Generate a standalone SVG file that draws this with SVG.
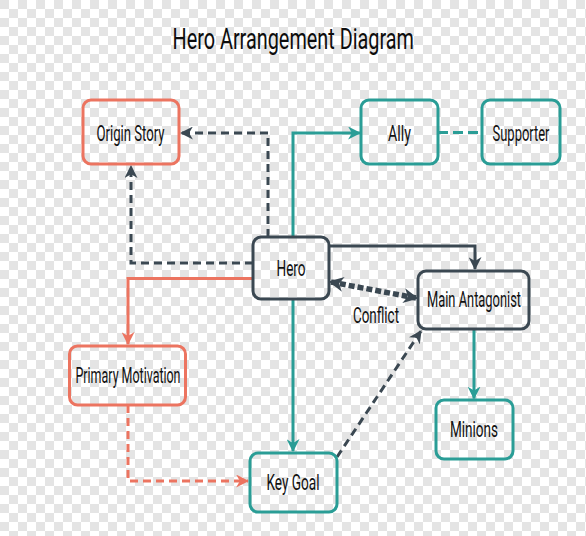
<svg xmlns="http://www.w3.org/2000/svg" width="586" height="536" viewBox="0 0 586 536">
  <defs>
    <pattern id="checker" x="0" y="0" width="18" height="18" patternUnits="userSpaceOnUse">
      <rect width="18" height="18" fill="#ffffff"/>
      <rect x="0" y="0" width="9" height="9" fill="#e4e4e4"/>
      <rect x="9" y="9" width="9" height="9" fill="#e4e4e4"/>
    </pattern>
    <marker id="arrDark" viewBox="0 0 12 12" refX="11" refY="6" markerWidth="13" markerHeight="13" markerUnits="userSpaceOnUse" orient="auto-start-reverse">
      <path d="M0,0 L12,6 L0,12 L3.5,6 Z" fill="#3b4852"/>
    </marker>
    <marker id="arrTeal" viewBox="0 0 12 12" refX="11" refY="6" markerWidth="13" markerHeight="13" markerUnits="userSpaceOnUse" orient="auto">
      <path d="M0,0 L12,6 L0,12 L3.5,6 Z" fill="#2a9d96"/>
    </marker>
    <marker id="arrOrange" viewBox="0 0 12 12" refX="11" refY="6" markerWidth="13" markerHeight="13" markerUnits="userSpaceOnUse" orient="auto">
      <path d="M0,0 L12,6 L0,12 L3.5,6 Z" fill="#ec7460"/>
    </marker>
    <marker id="arrConflict" viewBox="0 0 12 12" refX="10" refY="6" markerWidth="15" markerHeight="15" markerUnits="userSpaceOnUse" orient="auto-start-reverse">
      <path d="M0,0 L12,6 L0,12 L3.5,6 Z" fill="#3b4852"/>
    </marker>
  </defs>
  <style>
    .box { fill: none; stroke-width: 3; }
    .orange { stroke: #ec7460; }
    .teal { stroke: #2a9d96; }
    .dark { stroke: #3b4852; }
    .lbl { font-family: Roboto, "Liberation Sans", sans-serif; font-size: 22px; fill: #111111; text-anchor: middle; }
    .title { font-family: Roboto, "Liberation Sans", sans-serif; font-size: 30px; fill: #0d0d0d; }
    .conn { fill: none; stroke-width: 3; }
    .dash { stroke-dasharray: 8 5; }
  </style>

  <rect width="586" height="536" fill="url(#checker)"/>

  <text class="title" x="172.5" y="48.5" textLength="241.5" lengthAdjust="spacingAndGlyphs">Hero Arrangement Diagram</text>

  <g id="connectors">
    <!-- Hero -> Origin Story (top route) -->
    <path class="conn dark dash" d="M268,237 V133 H181" marker-end="url(#arrDark)"/>
    <!-- Hero -> Origin Story (left route) -->
    <path class="conn dark dash" d="M253,263 H131 V166" marker-end="url(#arrDark)"/>
    <!-- Hero -> Ally -->
    <path class="conn teal" d="M293,237 V133 H360" marker-end="url(#arrTeal)"/>
    <!-- Ally - Supporter -->
    <path class="conn teal" d="M438,132.5 H482" stroke-dasharray="10 5"/>
    <!-- Hero -> Main Antagonist -->
    <path class="conn dark" d="M329,246 H475 V269" marker-end="url(#arrDark)"/>
    <!-- Conflict -->
    <path fill="none" stroke="#3b4852" stroke-width="5.5" stroke-dasharray="6 3" d="M331,282 L416,298" marker-start="url(#arrConflict)" marker-end="url(#arrConflict)"/>
    <text class="lbl" transform="translate(376,322.5) scale(0.6,1)" textLength="76.7" lengthAdjust="spacingAndGlyphs">Conflict</text>
    <!-- Hero -> Primary Motivation -->
    <path class="conn orange" d="M253,278.5 H128 V344" marker-end="url(#arrOrange)"/>
    <!-- Primary Motivation -> Key Goal -->
    <path class="conn orange dash" d="M128,405 V481 H248" marker-end="url(#arrOrange)"/>
    <!-- Hero -> Key Goal -->
    <path class="conn teal" d="M293,299 V451" marker-end="url(#arrTeal)"/>
    <!-- Key Goal -> Main Antagonist -->
    <path class="conn dark dash" d="M337,457 L421,331" marker-end="url(#arrDark)"/>
    <!-- Main Antagonist -> Minions -->
    <path class="conn teal" d="M474,329 V398.5" marker-end="url(#arrTeal)"/>
  </g>

  <g id="origin-story">
    <rect class="box orange" x="83" y="100" width="96" height="64" rx="8"/>
    <text class="lbl" transform="translate(130.5,140.5) scale(0.6,1)" textLength="113.3" lengthAdjust="spacingAndGlyphs">Origin Story</text>
  </g>
  <g id="ally">
    <rect class="box teal" x="361" y="100" width="77" height="64" rx="8"/>
    <text class="lbl" transform="translate(399.5,140.5) scale(0.6,1)" textLength="38.3" lengthAdjust="spacingAndGlyphs">Ally</text>
  </g>
  <g id="supporter">
    <rect class="box teal" x="482" y="100" width="78" height="64" rx="8"/>
    <text class="lbl" transform="translate(521,140.5) scale(0.6,1)" textLength="95" lengthAdjust="spacingAndGlyphs">Supporter</text>
  </g>
  <g id="hero">
    <rect class="box dark" x="253" y="237" width="76" height="62" rx="8"/>
    <text class="lbl" transform="translate(291,276) scale(0.6,1)" textLength="48.3" lengthAdjust="spacingAndGlyphs">Hero</text>
  </g>
  <g id="main-antagonist">
    <rect class="box dark" x="418" y="271" width="111" height="58" rx="8"/>
    <text class="lbl" transform="translate(474,307) scale(0.6,1)" textLength="156.7" lengthAdjust="spacingAndGlyphs">Main Antagonist</text>
  </g>
  <g id="primary-motivation">
    <rect class="box orange" x="69.5" y="346" width="116" height="59" rx="8"/>
    <text class="lbl" transform="translate(128,383) scale(0.6,1)" textLength="175" lengthAdjust="spacingAndGlyphs">Primary Motivation</text>
  </g>
  <g id="minions">
    <rect class="box teal" x="436" y="400" width="77" height="59" rx="8"/>
    <text class="lbl" transform="translate(474,437) scale(0.6,1)" textLength="80" lengthAdjust="spacingAndGlyphs">Minions</text>
  </g>
  <g id="key-goal">
    <rect class="box teal" x="250" y="453" width="87" height="59" rx="8"/>
    <text class="lbl" transform="translate(293,489.5) scale(0.6,1)" textLength="88.3" lengthAdjust="spacingAndGlyphs">Key Goal</text>
  </g>
</svg>
